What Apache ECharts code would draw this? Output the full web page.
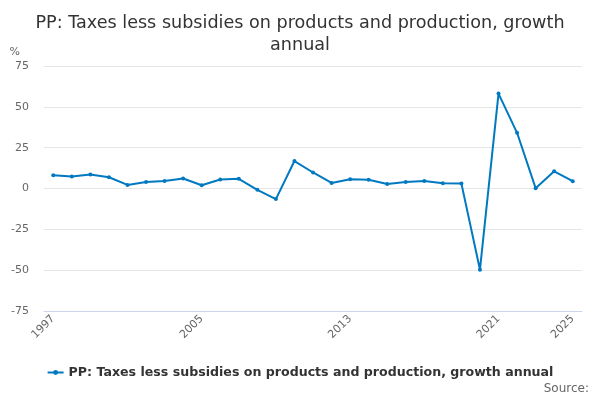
<!DOCTYPE html>
<html>
<head>
<meta charset="utf-8">
<script src="https://cdn.jsdelivr.net/npm/echarts@6/dist/echarts.min.js"></script>
<style>
  html, body { margin: 0; padding: 0; background: #fff; }
  #main { width: 600px; height: 400px; }
</style>
</head>
<body>
<div id="main"></div>
<script>
var years = ['1997', '1998', '1999', '2000', '2001', '2002', '2003', '2004', '2005', '2006',
  '2007', '2008', '2009', '2010', '2011', '2012', '2013', '2014', '2015', '2016',
  '2017', '2018', '2019', '2020', '2021', '2022', '2023', '2024', '2025'];
var growth = [8.1, 7.3, 8.6, 6.9, 2.2, 4.0, 4.6, 6.1, 2.0, 5.5,
  5.9, -0.8, -6.5, 16.8, 9.8, 3.4, 5.7, 5.3, 2.8, 4.0,
  4.6, 3.2, 3.0, -49.7, 58.1, 34.1, 0.2, 10.5, 4.5];
var seriesName = 'PP: Taxes less subsidies on products and production, growth annual';

var myChart = echarts.init(document.getElementById('main'));
var option = {
  animation: false,
  title: {
    text: 'PP: Taxes less subsidies on products and production, growth\nannual',
    left: 'center',
    top: 7,
    textStyle: {
      fontFamily: 'DejaVu Sans',
      fontSize: 17.6,
      fontWeight: 'normal',
      color: '#333333',
      lineHeight: 22
    }
  },
  legend: {
    bottom: 16,
    left: 'center',
    itemWidth: 16,
    itemHeight: 6,
    textStyle: {
      fontFamily: 'DejaVu Sans',
      fontSize: 12.6,
      fontWeight: 'bold',
      color: '#333333'
    },
    data: [seriesName]
  },
  graphic: [{
    type: 'text',
    right: 11,
    bottom: 5,
    style: {
      text: 'Source:',
      fontFamily: 'DejaVu Sans',
      fontSize: 12,
      fill: '#666666'
    }
  }],
  grid: {
    left: 44,
    right: 18,
    top: 66,
    bottom: 89
  },
  xAxis: {
    type: 'category',
    data: years,
    boundaryGap: true,
    axisLine: { onZero: false, lineStyle: { color: '#ccd6eb' } },
    axisTick: {
      alignWithLabel: true,
      interval: 1,
      length: 10,
      lineStyle: { color: '#ccd6eb' }
    },
    axisLabel: {
      rotate: 45,
      color: '#666666',
      fontFamily: 'DejaVu Sans',
      fontSize: 11,
      margin: 6,
      interval: function (index) {
        return index % 8 === 0 || index === years.length - 1;
      }
    }
  },
  yAxis: {
    type: 'value',
    min: -75,
    max: 75,
    interval: 25,
    name: '%',
    nameLocation: 'end',
    nameGap: 8,
    nameTextStyle: {
      align: 'right',
      padding: [0, 24, 0, 0],
      color: '#666666',
      fontFamily: 'DejaVu Sans',
      fontSize: 11
    },
    axisLine: { show: false },
    axisTick: { show: false },
    axisLabel: {
      color: '#666666',
      fontFamily: 'DejaVu Sans',
      fontSize: 11,
      margin: 15
    },
    splitLine: { lineStyle: { color: '#e6e6e6' } }
  },
  series: [{
    name: seriesName,
    type: 'line',
    data: growth,
    color: '#0079c1',
    symbol: 'circle',
    symbolSize: 4,
    lineStyle: { width: 2 }
  }]
};
myChart.setOption(option);
</script>
</body>
</html>
